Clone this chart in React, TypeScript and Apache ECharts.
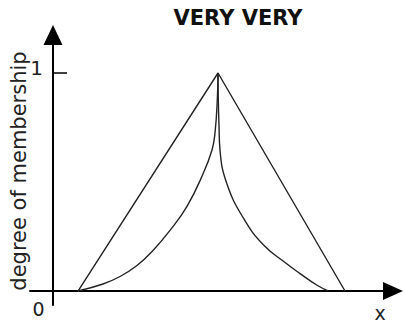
import React, { useEffect, useRef } from "react";
import * as echarts from "echarts";

const titleText = "VERY VERY";
const yAxisName = "degree of membership";
const yTickValues = [1];
const yTickLabels = ["1"];
const originLabel = "0";
const xAxisName = "x";

// Triangular membership function (x, degree)
const triangleX = [2.5, 16.5, 29.2];
const triangleY = [0, 1, 0];

// "very very" concentrated curve, left flank
const leftX = [2.5, 5.0, 6.7, 8.4, 10.0, 11.7, 13.4, 15.0, 15.9, 16.2, 16.43, 16.5];
const leftY = [0, 0.032, 0.0665, 0.117, 0.186, 0.278, 0.388, 0.537, 0.647, 0.725, 0.876, 1];

// right flank
const rightX = [16.5, 16.53, 16.6, 16.7, 17.37, 19.03, 21.03, 23.37, 24.7, 26.37, 27.53];
const rightY = [1, 0.876, 0.76, 0.647, 0.494, 0.335, 0.212, 0.125, 0.08, 0.0275, 0];

const zip = (xs: number[], ys: number[]) => xs.map((x, i) => [x, ys[i]]);

export default function App() {
  const ref = useRef<HTMLDivElement>(null);
  useEffect(() => {
    if (!ref.current) return;
    const chart = echarts.init(ref.current, null, { renderer: "svg" });
    const font = "DejaVu Sans";
    const lineColor = "#222";
    chart.setOption({
      animation: false,
      backgroundColor: "#fff",
      textStyle: { fontFamily: font },
      grid: { left: 30, right: 12, top: 35, bottom: 20, containLabel: false, outerBoundsMode: "none" },
      xAxis: {
        type: "value",
        min: -2.3,
        max: 34.0,
        axisLine: {
          onZero: true,
          lineStyle: { color: "#000", width: 2 },
          symbol: ["none", "triangle"],
          symbolSize: [18, 20],
        },
        axisTick: { show: false },
        axisLabel: { show: false },
        splitLine: { show: false },
      },
      yAxis: {
        type: "value",
        min: -0.0642,
        max: 1.1743,
        axisLine: {
          onZero: true,
          lineStyle: { color: "#000", width: 2 },
          symbol: ["none", "triangle"],
          symbolSize: [19, 20],
        },
        axisTick: {
          show: true,
          customValues: yTickValues,
          inside: true,
          length: 14,
          lineStyle: { color: "#000", width: 1.5 },
        },
        axisLabel: { show: false },
        splitLine: { show: false },
      },
      graphic: [
        {
          type: "text",
          x: 238,
          y: 18,
          style: {
            text: titleText,
            fontSize: 21,
            fontWeight: "bold",
            fontFamily: font,
            fill: "#111",
            align: "center",
            verticalAlign: "middle",
          },
        },
        {
          type: "text",
          x: 18.5,
          y: 171,
          rotation: Math.PI / 2,
          style: {
            text: yAxisName,
            fontSize: 21,
            fontFamily: font,
            fill: "#222",
            align: "center",
            verticalAlign: "middle",
          },
        },
        {
          type: "text",
          x: 43,
          y: 68,
          style: {
            text: yTickLabels[0],
            fontSize: 20,
            fontFamily: font,
            fill: "#222",
            align: "right",
            verticalAlign: "middle",
          },
        },
        {
          type: "text",
          x: 38.5,
          y: 308.5,
          style: {
            text: originLabel,
            fontSize: 19,
            fontFamily: font,
            fill: "#222",
            align: "center",
            verticalAlign: "middle",
          },
        },
        {
          type: "text",
          x: 380,
          y: 313,
          style: {
            text: xAxisName,
            fontSize: 19,
            fontFamily: font,
            fill: "#222",
            align: "center",
            verticalAlign: "middle",
          },
        },
      ],
      series: [
        {
          type: "line",
          data: zip(triangleX, triangleY),
          symbol: "none",
          lineStyle: { color: lineColor, width: 1.4 },
        },
        {
          type: "line",
          data: zip(leftX, leftY),
          symbol: "none",
          smooth: 0.45,
          lineStyle: { color: lineColor, width: 1.4 },
        },
        {
          type: "line",
          data: zip(rightX, rightY),
          symbol: "none",
          smooth: 0.45,
          lineStyle: { color: lineColor, width: 1.4 },
        },
      ],
    });
    return () => chart.dispose();
  }, []);
  return (
    <div
      ref={ref}
      style={{ position: "fixed", left: 0, top: 0, width: 405, height: 325 }}
    />
  );
}
